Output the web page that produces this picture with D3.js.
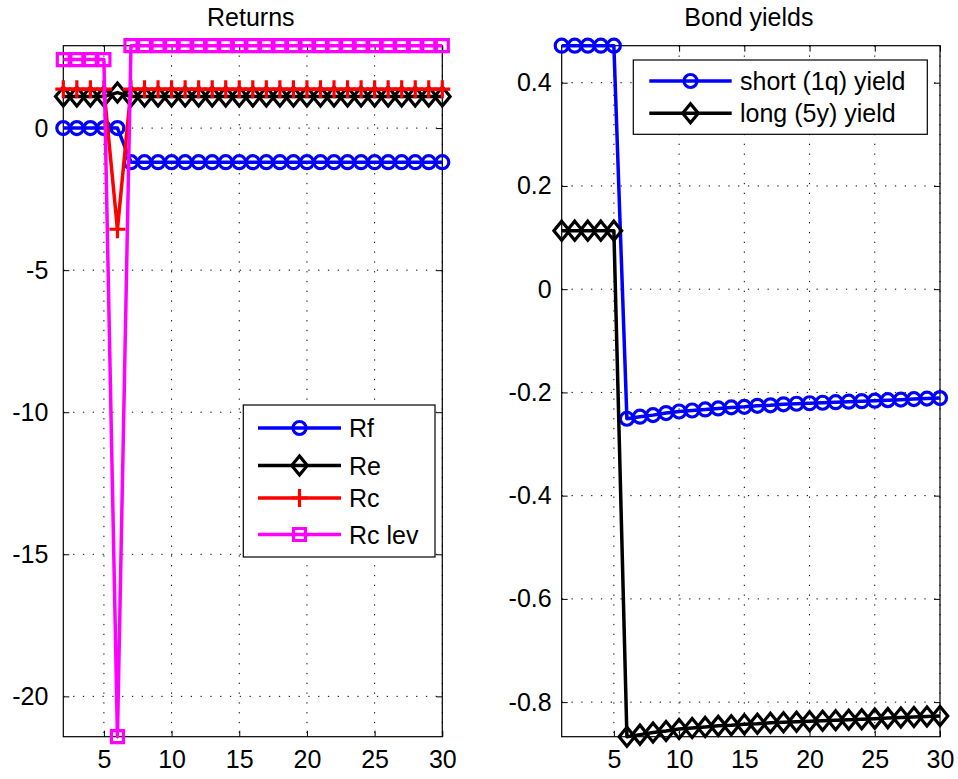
<!DOCTYPE html>
<html><head><meta charset="utf-8">
<script src="https://cdn.jsdelivr.net/npm/d3@7"></script>
<style>
html,body{margin:0;padding:0;background:#fff;}
svg{display:block;font-family:"Liberation Sans",Arial,Helvetica,sans-serif;}
</style></head>
<body>
<svg id="chart" width="958" height="779"></svg>
<script>
// ---------- data ----------
const periodsReturns = [2,3,4,5,6,7,8,9,10,11,12,13,14,15,16,17,18,19,20,21,22,23,24,25,26,27,28,29,30];
const Rf    = [0,0,0,0,0,-1.2,-1.2,-1.2,-1.2,-1.2,-1.2,-1.2,-1.2,-1.2,-1.2,-1.2,-1.2,-1.2,-1.2,-1.2,-1.2,-1.2,-1.2,-1.2,-1.2,-1.2,-1.2,-1.2,-1.2];
const Re    = [1.11,1.11,1.11,1.11,1.25,1.11,1.11,1.11,1.11,1.11,1.11,1.11,1.11,1.11,1.11,1.11,1.11,1.11,1.11,1.11,1.11,1.11,1.11,1.11,1.11,1.11,1.11,1.11,1.11];
const Rc    = [1.37,1.37,1.37,1.37,-3.56,1.37,1.37,1.37,1.37,1.37,1.37,1.37,1.37,1.37,1.37,1.37,1.37,1.37,1.37,1.37,1.37,1.37,1.37,1.37,1.37,1.37,1.37,1.37,1.37];
const RcLev = [2.41,2.41,2.41,2.41,-21.42,2.9,2.9,2.9,2.9,2.9,2.9,2.9,2.9,2.9,2.9,2.9,2.9,2.9,2.9,2.9,2.9,2.9,2.9,2.9,2.9,2.9,2.9,2.9,2.9];
const returnsNames = ["Rf","Re","Rc","Rc lev"];

const periodsYields = [1,2,3,4,5,6,7,8,9,10,11,12,13,14,15,16,17,18,19,20,21,22,23,24,25,26,27,28,29,30];
const shortYield = [0.4717,0.4717,0.4717,0.4717,0.4717,-0.251,-0.247,-0.244,-0.240,-0.237,-0.235,-0.233,-0.231,-0.229,-0.228,-0.226,-0.225,-0.223,-0.222,-0.221,-0.220,-0.219,-0.218,-0.217,-0.216,-0.215,-0.214,-0.213,-0.212,-0.211];
const longYield  = [0.1134,0.1134,0.1134,0.1134,0.1134,-0.867,-0.863,-0.859,-0.856,-0.852,-0.850,-0.848,-0.846,-0.845,-0.843,-0.842,-0.840,-0.839,-0.838,-0.837,-0.836,-0.835,-0.834,-0.833,-0.832,-0.831,-0.830,-0.829,-0.828,-0.827];
const yieldNames = ["short (1q) yield","long (5y) yield"];

const xTicks = [5,10,15,20,25,30];
const xTickLabels = ["5","10","15","20","25","30"];
const yTicksReturns = [0,-5,-10,-15,-20];
const yTickLabelsReturns = ["0","-5","-10","-15","-20"];
const yTicksYields = [0.4,0.2,0,-0.2,-0.4,-0.6,-0.8];
const yTickLabelsYields = ["0.4","0.2","0","-0.2","-0.4","-0.6","-0.8"];

// ---------- drawing ----------
const svg = d3.select("#chart");
const FS = 25;
const markers = {
  circle: "M6.5,0A6.5,6.5 0 1,1 -6.5,0A6.5,6.5 0 1,1 6.5,0Z",
  diamond: "M0,-9.5L7.8,0L0,9.5L-7.8,0Z",
  plus: "M0,-9V9M-8,0H8",
  square: "M-6,-6H6V6H-6Z"
};

function panel(opt){
  const g = svg.append("g");
  const x = d3.scaleLinear().domain(opt.xDomain).range([opt.left, opt.right]);
  const allY = opt.series.flatMap(s => s.values);
  const y = d3.scaleLinear().domain(d3.extent(allY)).range([opt.bottom, opt.top]);
  const W = opt.right - opt.left, H = opt.bottom - opt.top;

  g.append("rect").attr("x",opt.left).attr("y",opt.top).attr("width",W).attr("height",H).attr("fill","#fff");

  // grid
  const grid = g.append("g").attr("stroke","#000").attr("stroke-width",1).attr("stroke-dasharray","1.3,8.5");
  opt.xTicks.forEach(t => grid.append("line").attr("x1",x(t)).attr("x2",x(t)).attr("y1",opt.top).attr("y2",opt.bottom));
  opt.yTicks.forEach(t => grid.append("line").attr("x1",opt.left).attr("x2",opt.right).attr("y1",y(t)).attr("y2",y(t)));

  // axes (inner ticks)
  const axB = d3.axisBottom(x).tickValues(opt.xTicks).tickSize(-6).tickPadding(14).tickFormat((d,i)=>opt.xTickLabels[i]);
  const axT = d3.axisTop(x).tickValues(opt.xTicks).tickSize(-6).tickFormat("");
  const axL = d3.axisLeft(y).tickValues(opt.yTicks).tickSize(-6).tickPadding(opt.yPad).tickFormat((d,i)=>opt.yTickLabels[i]);
  const axR = d3.axisRight(y).tickValues(opt.yTicks).tickSize(-6).tickFormat("");
  function style(sel){
    sel.select(".domain").remove();
    sel.selectAll(".tick line").attr("stroke","#000").attr("stroke-width",1);
    sel.selectAll("text").attr("fill","#000").style("font-size",FS+"px").style("font-family","Liberation Sans, Arial, sans-serif");
  }
  g.append("g").attr("transform",`translate(0,${opt.bottom})`).call(axB).call(style);
  g.append("g").attr("transform",`translate(0,${opt.top})`).call(axT).call(style);
  g.append("g").attr("transform",`translate(${opt.left},0)`).call(axL).call(style);
  g.append("g").attr("transform",`translate(${opt.right},0)`).call(axR).call(style);

  g.append("rect").attr("x",opt.left).attr("y",opt.top).attr("width",W).attr("height",H)
    .attr("fill","none").attr("stroke","#000").attr("stroke-width",1.2);

  g.append("text").attr("x",(opt.left+opt.right)/2 - 2).attr("y",opt.top-20)
    .attr("text-anchor","middle").style("font-size",FS+"px").attr("fill","#000").text(opt.title);

  const line = d3.line().x((d,i)=>x(opt.xs[i])).y(d=>y(d));
  opt.series.forEach(s => {
    g.append("path").datum(s.values).attr("d",line).attr("fill","none")
      .attr("stroke",s.color).attr("stroke-width",3.5).attr("stroke-linejoin","round");
    g.append("g").selectAll("path").data(s.values).join("path")
      .attr("transform",(d,i)=>`translate(${x(opt.xs[i])},${y(d)})`)
      .attr("d",markers[s.marker]).attr("fill","none").attr("stroke",s.color).attr("stroke-width",3.2);
  });

  const L = opt.legend;
  const lg = svg.append("g");
  lg.append("rect").attr("x",L.x).attr("y",L.y).attr("width",L.w).attr("height",L.h)
    .attr("fill","#fff").attr("stroke","#000").attr("stroke-width",1.2);
  opt.series.forEach((s,i) => {
    const yy = L.rows[i];
    lg.append("line").attr("x1",L.l1).attr("x2",L.l2).attr("y1",yy).attr("y2",yy).attr("stroke",s.color).attr("stroke-width",3.5);
    lg.append("path").attr("transform",`translate(${(L.l1+L.l2)/2},${yy})`).attr("d",markers[s.marker])
      .attr("fill","none").attr("stroke",s.color).attr("stroke-width",3.2);
    lg.append("text").attr("x",L.tx).attr("y",yy).attr("dy","0.36em").style("font-size",FS+"px").attr("fill","#000").text(s.name);
  });
}

panel({
  title:"Returns", left:63.3, right:442.3, top:45.7, bottom:736.7,
  xDomain:[2,30], xs:periodsReturns,
  xTicks:xTicks, xTickLabels:xTickLabels, yTicks:yTicksReturns, yTickLabels:yTickLabelsReturns, yPad:15,
  series:[
    {name:returnsNames[0], values:Rf, color:"#0000ff", marker:"circle"},
    {name:returnsNames[1], values:Re, color:"#000000", marker:"diamond"},
    {name:returnsNames[2], values:Rc, color:"#ff0000", marker:"plus"},
    {name:returnsNames[3], values:RcLev, color:"#ff00ff", marker:"square"}
  ],
  legend:{x:243.3, y:405, w:191.7, h:152, rows:[428,465.5,498,534.5], l1:258, l2:341, tx:349}
});

panel({
  title:"Bond yields", left:561.7, right:940, top:45.7, bottom:736.7,
  xDomain:[1,30], xs:periodsYields,
  xTicks:xTicks, xTickLabels:xTickLabels, yTicks:yTicksYields, yTickLabels:yTickLabelsYields, yPad:10,
  series:[
    {name:yieldNames[0], values:shortYield, color:"#0000ff", marker:"circle"},
    {name:yieldNames[1], values:longYield, color:"#000000", marker:"diamond"}
  ],
  legend:{x:633.3, y:60, w:294, h:74.3, rows:[81,113.3], l1:649.3, l2:731.7, tx:740}
});
</script>
</body></html>
